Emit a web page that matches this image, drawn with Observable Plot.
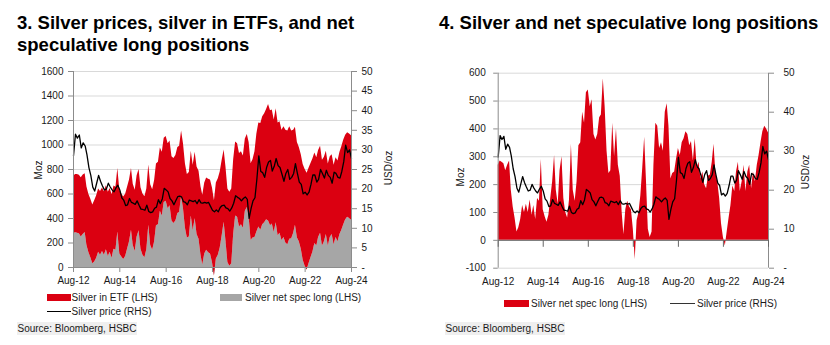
<!DOCTYPE html>
<html><head><meta charset="utf-8">
<script src="https://cdn.jsdelivr.net/npm/d3@7"></script>
<script src="https://cdn.jsdelivr.net/npm/@observablehq/plot@0.6"></script>
<style>
body{margin:0;background:#fff;}
#root{position:relative;width:830px;height:345px;overflow:hidden;background:#fff;font-family:"Liberation Sans",Arial,Helvetica,sans-serif;color:#1a1a1a;}
.title{position:absolute;font-weight:bold;font-size:18.5px;line-height:22px;white-space:nowrap;color:#000;}
.lg{position:absolute;font-size:10px;line-height:12px;white-space:nowrap;color:#1a1a1a;}
.sw{position:absolute;}
.src{position:absolute;font-size:10px;line-height:13px;background:#efefef;white-space:nowrap;padding:0 1px;color:#1a1a1a;}
.ax{position:absolute;font-size:10px;white-space:nowrap;transform:translate(-50%,-50%) rotate(-90deg);color:#1a1a1a;}
.chart{position:absolute;top:60px;}
.chart svg{overflow:visible;}
</style></head>
<body><div id="root">
<div class="title" style="left:17px;top:12px">3. Silver prices, silver in ETFs, and net<br>speculative long positions</div>
<div class="title" style="left:439px;top:12px">4. Silver and net speculative long positions</div>
<div id="left" class="chart" style="left:0px"></div>
<div id="right" class="chart" style="left:415px"></div>
<div class="ax" style="left:37.5px;top:170px">Moz</div>
<div class="ax" style="left:388px;top:168px">USD/oz</div>
<div class="ax" style="left:460px;top:177px">Moz</div>
<div class="ax" style="left:805px;top:172px">USD/oz</div>

<div class="sw" style="left:47px;top:294px;width:24px;height:7px;background:#db0011"></div>
<div class="lg" style="left:71.5px;top:292px">Silver in ETF (LHS)</div>
<div class="sw" style="left:220px;top:294px;width:22px;height:7px;background:#a6a6a6"></div>
<div class="lg" style="left:245px;top:292px">Silver net spec long (LHS)</div>
<div class="sw" style="left:47px;top:311px;width:24px;height:1.3px;background:#000"></div>
<div class="lg" style="left:71.5px;top:306px">Silver price (RHS)</div>
<div class="src" style="left:16.5px;top:322px">Source: Bloomberg, HSBC</div>

<div class="sw" style="left:504px;top:300px;width:25px;height:7px;background:#db0011"></div>
<div class="lg" style="left:531px;top:298px">Silver net spec long (LHS)</div>
<div class="sw" style="left:670px;top:302.7px;width:25px;height:1.3px;background:#333"></div>
<div class="lg" style="left:697px;top:298px">Silver price (RHS)</div>
<div class="src" style="left:444.5px;top:322px">Source: Bloomberg, HSBC</div>
</div>
<script>
// Monthly observations, Aug-2012 .. Aug-2024 (145 months)
const netSpec = [ // Moz
 270,285,280,275,250,270,285,180,120,80,
 30,45,75,125,100,130,100,145,90,125,
 75,150,140,290,110,85,65,90,150,210,
 305,180,130,250,300,150,100,80,145,345,
 180,140,210,340,350,460,420,530,540,480,
 505,380,360,380,440,450,580,480,320,240,
 250,420,300,400,270,230,100,20,110,140,
 120,110,40,-70,70,100,160,260,370,220,
 40,10,30,270,420,410,330,350,320,460,
 490,410,220,240,245,290,330,305,350,365,
 390,380,340,355,285,365,260,280,220,245,
 200,185,230,235,280,345,240,210,150,60,
 10,-20,30,80,125,195,175,245,280,175,
 210,270,175,245,270,185,245,210,270,305,
 350,390,410,400,385];
const etfHoldings = [ // Moz
 470,475,480,478,482,485,480,478,475,478,
 480,500,510,515,520,520,518,522,525,520,
 518,515,515,518,520,515,510,508,505,505,
 503,500,500,498,500,502,500,498,495,492,
 495,495,500,505,510,515,520,525,530,530,
 528,525,530,535,540,540,535,530,525,520,
 525,530,535,540,550,555,560,570,580,590,
 600,605,610,615,620,625,620,615,590,605,
 600,605,610,610,605,600,600,595,590,590,
 595,610,630,640,700,800,850,870,880,890,
 900,950,940,930,920,930,920,910,900,905,
 920,930,920,880,840,800,780,770,770,780,
 790,790,780,770,760,740,720,710,710,700,
 690,680,670,660,650,650,650,660,670,680,
 690,690,690,690,690];
const silverPrice = [ // USD/oz
 28.5,34.0,33.0,33.8,30.5,31.8,31.0,28.8,25.5,23.5,
 20.5,19.5,21.5,23.5,22.0,20.8,19.8,20.0,21.5,20.6,
 19.8,19.3,20.3,21.0,19.8,17.8,17.2,15.8,16.0,17.6,
 16.6,16.4,16.1,17.0,15.9,14.9,14.8,14.6,15.9,14.3,
 14.0,14.2,15.1,15.4,17.3,16.3,17.5,20.2,19.8,19.3,
 17.6,17.0,16.0,17.1,18.1,18.2,18.0,16.8,16.6,16.0,
 17.2,17.0,16.8,17.1,16.3,17.3,16.5,16.4,16.6,16.4,
 16.6,15.6,14.6,14.2,14.7,14.2,15.3,15.8,15.9,15.2,
 15.0,14.4,15.2,16.4,18.3,17.9,17.6,17.0,17.6,18.0,
 17.4,12.5,15.1,17.0,17.8,22.5,28.5,24.5,24.2,23.0,
 25.5,26.9,27.3,24.6,25.8,27.8,26.0,25.5,23.8,22.0,
 24.0,25.0,22.5,23.0,24.0,26.5,24.0,21.8,21.2,18.8,
 19.2,18.5,19.2,21.2,23.6,23.6,21.8,22.5,25.0,24.0,
 22.8,24.8,23.5,23.0,21.5,24.3,24.0,23.0,22.8,24.5,
 27.0,31.2,29.3,30.0,27.8];
const xTickYears = [2012,2014,2016,2018,2020,2022,2024];
const leftMozTicks = [0,200,400,600,800,1000,1200,1400,1600];
const leftPriceTicks = [0,5,10,15,20,25,30,35,40,45,50];
const rightMozTicks = [-100,0,100,200,300,400,500,600];
const rightPriceTicks = [0,10,20,30,40,50];

const RED = "#db0011", GRAY = "#a6a6a6", AX = "#8c8c8c", GRID = "#d9d9d9", TXT = "#1a1a1a";
const FONT = '"Liberation Sans", Arial, Helvetica, sans-serif';

const dates = d3.utcMonth.range(new Date(Date.UTC(2012,7,1)), new Date(Date.UTC(2024,8,1)));
const rows = dates.map((date,i) => ({date, spec: netSpec[i], etf: etfHoldings[i], price: silverPrice[i]}));
const xTicks = xTickYears.map(y => new Date(Date.UTC(y,7,1)));
const xDomain = [dates[0], dates[dates.length-1]];
const fmt = d3.utcFormat("%b-%y");
const style = {fontFamily: FONT, fontSize: "10px", color: TXT, background: "transparent", overflow: "visible"};

// Left: price mapped onto the Moz axis (0..50 USD -> 0..1600 Moz)
const K1 = 1600/50;
const left = Plot.plot({
  width: 415, height: 235, marginTop: 11, marginBottom: 28, marginLeft: 73, marginRight: 64,
  style,
  x: {type: "utc", domain: xDomain},
  y: {domain: [0,1600]},
  marks: [
    Plot.gridY(leftMozTicks.filter(d => d > 0), {stroke: GRID, strokeOpacity: 1}),
    Plot.areaY(rows, {x: "date", y1: 0, y2: "spec", fill: GRAY}),
    Plot.areaY(rows, {x: "date", y1: "spec", y2: d => d.spec + d.etf, fill: RED}),
    Plot.lineY(rows, {x: "date", y: d => d.price*K1, stroke: "#000", strokeWidth: 1.3}),
    Plot.ruleY([0], {stroke: AX}),
    Plot.ruleX(xDomain, {stroke: AX}),
    Plot.axisY(leftMozTicks, {anchor: "left", tickSize: 5, tickPadding: 5, stroke: AX, fill: TXT, label: null,
      tickFormat: d => String(d)}),
    Plot.axisY(leftPriceTicks.map(v => v*K1), {anchor: "right", tickSize: 5, tickPadding: 5, stroke: AX, fill: TXT, label: null,
      tickFormat: d => d === 0 ? "-" : String(Math.round(d/K1))}),
    Plot.axisX(xTicks, {anchor: "bottom", tickSize: 5, tickPadding: 4, stroke: AX, fill: TXT, label: null, tickFormat: fmt})
  ]
});
document.getElementById("left").append(left);

// Right: price mapped onto the Moz axis (0..50 USD -> -100..600 Moz)
const K2 = 700/50;
const right = Plot.plot({
  width: 415, height: 235, marginTop: 12.7, marginBottom: 27.3, marginLeft: 82.7, marginRight: 62,
  style,
  x: {type: "utc", domain: xDomain},
  y: {domain: [-100,600]},
  marks: [
    Plot.gridY(rightMozTicks.filter(d => d !== 0), {stroke: GRID, strokeOpacity: 1}),
    Plot.areaY(rows, {x: "date", y1: 0, y2: "spec", fill: RED}),
    Plot.lineY(rows, {x: "date", y: d => -100 + d.price*K2, stroke: "#000", strokeWidth: 1.3}),
    Plot.ruleY([0], {stroke: "#666"}),
    Plot.ruleX(xDomain, {stroke: AX}),
    Plot.ruleX(xTicks, {x: d => d, y1: 0, y2: -25, stroke: "#666"}),
    Plot.axisY(rightMozTicks, {anchor: "left", tickSize: 4.5, tickPadding: 8, stroke: AX, fill: TXT, label: null,
      tickFormat: d => String(d)}),
    Plot.axisY(rightPriceTicks.map(v => -100 + v*K2), {anchor: "right", tickSize: 5, tickPadding: 10, stroke: AX, fill: TXT, label: null,
      tickFormat: d => { const p = Math.round((d+100)/K2); return p === 0 ? "-" : String(p); }}),
    Plot.axisX(xTicks, {anchor: "bottom", tickSize: 0, tickPadding: 10, fill: TXT, label: null, tickFormat: fmt})
  ]
});
document.getElementById("right").append(right);
</script>
</body></html>
